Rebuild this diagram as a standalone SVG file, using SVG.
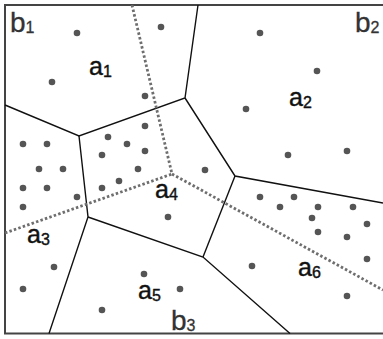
<svg xmlns="http://www.w3.org/2000/svg" width="383" height="339" viewBox="0 0 383 339">
<style>
.edge{fill:none;stroke:#111;stroke-width:1.4}
.dual{fill:none;stroke:#6e6e6e;stroke-width:2.8;stroke-dasharray:2.5 2.2}
.frame{fill:none;stroke:#444;stroke-width:2}
.pt{fill:#555}
.a{font-family:"Liberation Sans",Arial,sans-serif;font-size:25px;fill:#111;stroke:#111;stroke-width:0.4}
.b{font-family:"Liberation Sans",Arial,sans-serif;font-size:28px;fill:#333;stroke:#333;stroke-width:0.3}
.s{font-size:16px}
</style>
<rect width="383" height="339" fill="#fff"/>
<path class="frame" d="M383,5 H5 V333.5 H383"/>
<g id="connectors">
<path class="edge" d="M5,105 L79,136 L185,98 L198,5"/>
<path class="edge" d="M185,98 L235,176 L383,203"/>
<path class="edge" d="M79,136 L88,217 L49,333.5"/>
<path class="edge" d="M88,217 L203,257 L290,333.5"/>
<path class="edge" d="M203,257 L235,176"/>
<path class="dual" d="M132,5 L172,174"/>
<path class="dual" d="M5,233 L172,174"/>
<path class="dual" d="M172,174 L383,290"/>
</g>
<g id="points">
<circle class="pt" cx="77" cy="33" r="3.3"/>
<circle class="pt" cx="161" cy="27" r="3.3"/>
<circle class="pt" cx="52" cy="82" r="3.3"/>
<circle class="pt" cx="145" cy="96" r="3.3"/>
<circle class="pt" cx="260" cy="33" r="3.3"/>
<circle class="pt" cx="317" cy="71" r="3.3"/>
<circle class="pt" cx="246" cy="109" r="3.3"/>
<circle class="pt" cx="288" cy="155" r="3.3"/>
<circle class="pt" cx="347" cy="151" r="3.3"/>
<circle class="pt" cx="23" cy="144" r="3.3"/>
<circle class="pt" cx="47" cy="144" r="3.3"/>
<circle class="pt" cx="39" cy="169" r="3.3"/>
<circle class="pt" cx="63" cy="169" r="3.3"/>
<circle class="pt" cx="23" cy="188" r="3.3"/>
<circle class="pt" cx="47" cy="188" r="3.3"/>
<circle class="pt" cx="77" cy="197" r="3.3"/>
<circle class="pt" cx="23" cy="207" r="3.3"/>
<circle class="pt" cx="145" cy="126" r="3.3"/>
<circle class="pt" cx="108" cy="137" r="3.3"/>
<circle class="pt" cx="127" cy="144" r="3.3"/>
<circle class="pt" cx="145" cy="151" r="3.3"/>
<circle class="pt" cx="102" cy="155" r="3.3"/>
<circle class="pt" cx="138" cy="169" r="3.3"/>
<circle class="pt" cx="119" cy="181" r="3.3"/>
<circle class="pt" cx="102" cy="188" r="3.3"/>
<circle class="pt" cx="205" cy="170" r="3.3"/>
<circle class="pt" cx="168" cy="217" r="3.3"/>
<circle class="pt" cx="54" cy="267" r="3.3"/>
<circle class="pt" cx="23" cy="289" r="3.3"/>
<circle class="pt" cx="144" cy="274" r="3.3"/>
<circle class="pt" cx="180" cy="289" r="3.3"/>
<circle class="pt" cx="102" cy="310" r="3.3"/>
<circle class="pt" cx="260" cy="197" r="3.3"/>
<circle class="pt" cx="280" cy="207" r="3.3"/>
<circle class="pt" cx="294" cy="197" r="3.3"/>
<circle class="pt" cx="318" cy="207" r="3.3"/>
<circle class="pt" cx="312" cy="218" r="3.3"/>
<circle class="pt" cx="318" cy="232" r="3.3"/>
<circle class="pt" cx="353" cy="207" r="3.3"/>
<circle class="pt" cx="367" cy="224" r="3.3"/>
<circle class="pt" cx="347" cy="237" r="3.3"/>
<circle class="pt" cx="367" cy="259" r="3.3"/>
<circle class="pt" cx="252" cy="266" r="3.3"/>
<circle class="pt" cx="347" cy="296" r="3.3"/>
</g>
<g id="labels">
<text class="b" x="10" y="32">b<tspan class="s" dy="1">1</tspan></text>
<text class="b" x="355" y="32">b<tspan class="s" dy="1">2</tspan></text>
<text class="b" x="171" y="330">b<tspan class="s" dy="1">3</tspan></text>
<text class="a" x="89" y="75">a<tspan class="s" dy="2">1</tspan></text>
<text class="a" x="289" y="106">a<tspan class="s" dy="2">2</tspan></text>
<text class="a" x="27" y="243">a<tspan class="s" dy="2">3</tspan></text>
<text class="a" x="155" y="198">a<tspan class="s" dy="2">4</tspan></text>
<text class="a" x="138" y="299">a<tspan class="s" dy="2">5</tspan></text>
<text class="a" x="298" y="276">a<tspan class="s" dy="2">6</tspan></text>
</g>
</svg>
